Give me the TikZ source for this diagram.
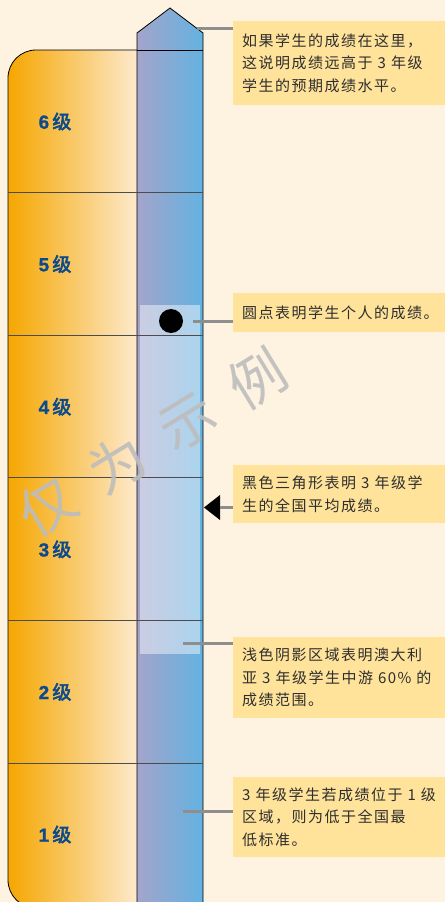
\documentclass[tikz,border=0pt]{standalone}
\usepackage{fontspec}
\setmainfont{Noto Sans CJK SC}
\newfontfamily\notefont[LetterSpace=10]{Noto Sans CJK SC}
\newfontfamily\levelfont[FakeBold=3]{Noto Sans CJK SC}
\newfontfamily\digitfont[FakeBold=1]{Liberation Sans}
\usepackage{xcolor}

\definecolor{cream}{HTML}{FEF2E1}
\definecolor{noteBg}{HTML}{FFE39B}
\definecolor{noteText}{HTML}{2E2E2E}
\definecolor{orLeft}{HTML}{F5A700}
\definecolor{orRight}{HTML}{FDE9CC}
\definecolor{colLeft}{HTML}{A4A4CA}
\definecolor{colRight}{HTML}{63B2E1}
\definecolor{levelBlue}{HTML}{0D4A8C}
\definecolor{leadGray}{HTML}{8E8E8E}
\definecolor{stampGray}{HTML}{BDBDBD}

\begin{document}
\begin{tikzpicture}[x=1pt, y=-1pt,
    note/.style={fill=noteBg, anchor=north west, text width=194pt, inner xsep=9pt,
      inner ysep=0pt, align=left, text=noteText,
      font=\notefont\fontsize{15pt}{22.5pt}\selectfont},
    lead/.style={draw=leadGray, line width=3pt},
    band/.style={draw=black!70, line width=0.8pt},
    level/.style={text=levelBlue, font=\levelfont\fontsize{19pt}{22pt}\selectfont},
    stamp/.style={text=stampGray, opacity=0.9, font=\fontsize{56pt}{60pt}\selectfont}]
  \fill[cream] (0,0) rectangle (445,902);
  \useasboundingbox (0,0) rectangle (445,902);
  \clip (0,0) rectangle (445,902);

  % level bar and score column
  \shade[left color=orLeft, right color=orRight, draw=black, line width=0.8pt,
    rounded corners=28pt] (137,50) -- (8,50) -- (8,908) -- (137,908);
  \shade[left color=colLeft, right color=colRight, draw=black, line width=0.8pt]
    (137,908) -- (137,33) -- (170,8) -- (203,33) -- (203,908);
  \fill[white, opacity=0.45] (140,305) rectangle (200,654);
  \draw[black, line width=0.8pt] (137,50) -- (203,50);
  \foreach \y in {192.6,335.2,477.8,620.4,763} \draw[band] (8,\y) -- (203,\y);
  \foreach \n [count=\i from 0] in {6,...,1}
    \node[level] (lv\n) at (55,121.5+142.6*\i) {{\digitfont\bfseries\n}\,级};

  \node[stamp, rotate=31.4] (wm) at (152.5,442.5)
    {仅\hspace{26pt}为\hspace{26pt}示\hspace{26pt}例};

  % markers
  \node[circle, fill=black, minimum size=24pt, inner sep=0pt] (dot) at (171,321) {};
  \fill[black] (204,507.5) -- (220,495) -- (220,520) -- cycle;
  \coordinate (avg) at (220,507.5);
  \coordinate (tipR) at (196.5,28);
  \coordinate (midR) at (183,643);
  \coordinate (lowR) at (183,811);

  % notes
  \node[note, minimum height=84pt] (n1) at (233,21)
    {如果学生的成绩在这里，\\这说明成绩远高于 3 年级\\学生的预期成绩水平。};
  \node[note, minimum height=39pt] (n2) at (233,293) {圆点表明学生个人的成绩。};
  \node[note, minimum height=58pt] (n3) at (233,465)
    {黑色三角形表明 3 年级学\\生的全国平均成绩。};
  \node[note, minimum height=81pt] (n4) at (233,637)
    {浅色阴影区域表明澳大利\\亚 3 年级学生中游 60\% 的\\成绩范围。};
  \node[note, minimum height=80pt] (n5) at (233,777)
    {3 年级学生若成绩位于 1 级\\区域，则为低于全国最\\低标准。};

  \draw[lead] (tipR) -- (tipR -| n1.west);
  \draw[lead] ([xshift=10pt]dot.east) -- (n2.west |- dot.east);
  \draw[lead] (avg) -- (avg -| n3.west);
  \draw[lead] (midR) -- (midR -| n4.west);
  \draw[lead] (lowR) -- (lowR -| n5.west);
\end{tikzpicture}
\end{document}
